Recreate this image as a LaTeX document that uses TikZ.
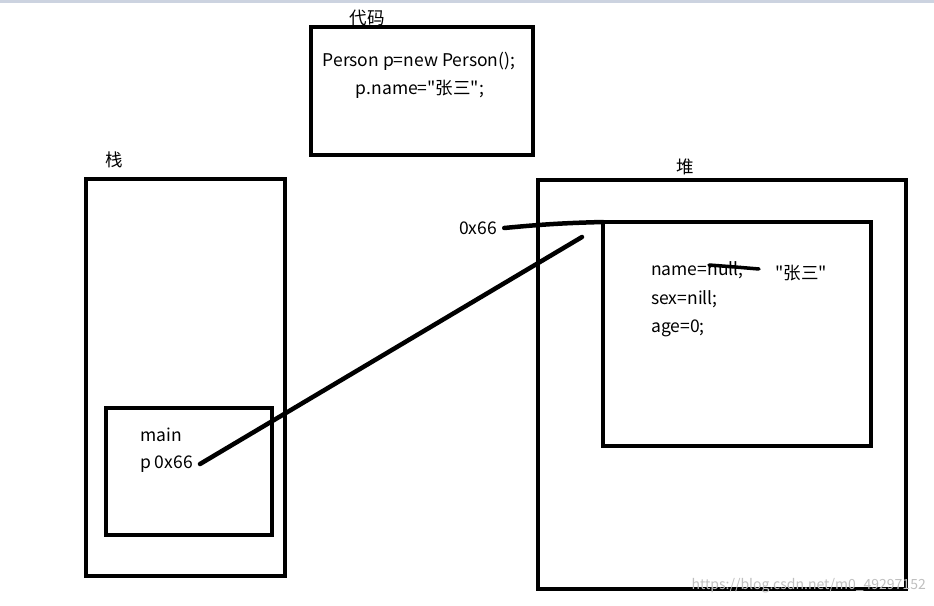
\documentclass[tikz,border=0pt]{standalone}
\usepackage{fontspec}
\setmainfont{Noto Sans CJK SC}[Ligatures=TeXOff]
\usetikzlibrary{positioning}
\definecolor{topbar}{RGB}{204,211,224}
\begin{document}
\begin{tikzpicture}[
  x=1pt, y=-1pt,
  box/.style={draw, line width=3.5pt, inner sep=0pt, outer sep=0pt, anchor=north west},
  txt/.style={font=\fontsize{17.5}{20}\selectfont, inner sep=0pt},
  link/.style={line width=4.5pt, line cap=round},
]
  \useasboundingbox (0,0) rectangle (934,605);
  \fill[topbar] (0,0) rectangle (934,3);

  % boxes
  \node[box, minimum width=222, minimum height=128] (code)  at (311,27)  {};
  \node[box, minimum width=199, minimum height=397] (stack) at (86,179)  {};
  \node[box, minimum width=166, minimum height=127] (frame) at (106,408) {};
  \node[box, minimum width=368, minimum height=409] (heap)  at (538,180) {};
  \node[box, minimum width=268, minimum height=224] (obj)   at (603,222) {};

  % titles
  \node[txt] (codet)  at (367,18)  {代码};
  \node[txt] (stackt) at (114,160) {栈};
  \node[txt] (heapt)  at (685,167) {堆};

  % code
  \node[txt] (line1) at (419,61) {Person p=new Person();};
  \node[txt] (line2) at (420,89) {p.name="张三";};

  % stack frame
  \node[txt, anchor=west] (mainl) at (140,435) {main};
  \node[txt, anchor=west] (pvar)  at (140,464) {p 0x66};

  % heap object
  \node[txt, anchor=west] (addr)  at (459,228) {0x66};
  \node[txt, anchor=west] (name)  at (651,270) {name=null;};
  \node[txt, anchor=west] (sex)   at (651,299) {sex=nill;};
  \node[txt, anchor=west] (age)   at (651,328) {age=0;};
  \node[txt, anchor=west] (newv)  at (775,273) {"张三"};

  \draw[link, line width=3.5pt] (709,265) -- (735,267) -- (759,269);

  % references
  \coordinate (ref) at (582,237);
  \draw[link] ([xshift=7]pvar.east) -- (ref);
  \draw[link] ([xshift=7]addr.east) to[bend left=2] (obj.north west);

  \node[txt, font=\fontsize{14}{16}\selectfont, text=black!25, anchor=east] (mark) at (926,586) {https://blog.csdn.net/m0\_49297152};
\end{tikzpicture}
\end{document}
